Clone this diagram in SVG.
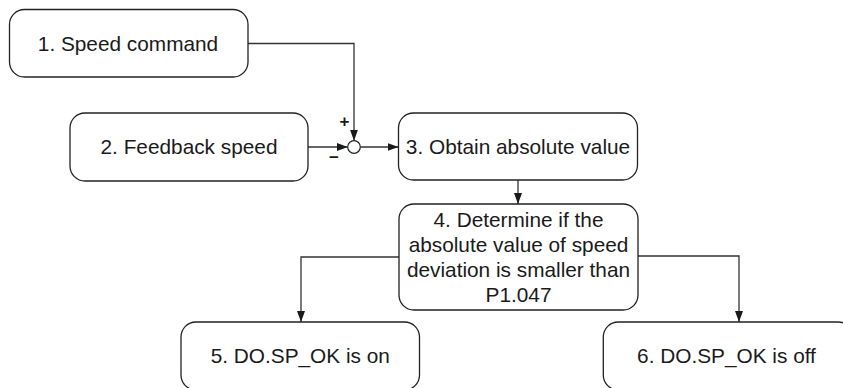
<svg xmlns="http://www.w3.org/2000/svg" width="843" height="388" viewBox="0 0 843 388">
<style>
.box{fill:#fff;stroke:#222;stroke-width:1.3}
.t{font-family:"Liberation Sans",Arial,sans-serif;font-size:20.8px;fill:#1a1a1a;text-anchor:middle}
.c{fill:none;stroke:#333;stroke-width:1.3}
.sign{font-family:"Liberation Sans",Arial,sans-serif;font-weight:bold;font-size:17px;fill:#1a1a1a;text-anchor:middle}
</style>
<defs>
<marker id="ah" viewBox="0 0 11 8" refX="11" refY="4" markerWidth="11" markerHeight="8" markerUnits="userSpaceOnUse" orient="auto">
<path d="M0,0 L11,4 L0,8 Z" fill="#1a1a1a"/>
</marker>
</defs>
<rect width="843" height="388" fill="#fff"/>
<g id="connectors">
<path class="c" d="M248,43.5 H354 V140.7" marker-end="url(#ah)"/>
<path class="c" d="M308,147 H347.7" marker-end="url(#ah)"/>
<path class="c" d="M360.3,147 H398.5" marker-end="url(#ah)"/>
<path class="c" d="M518,180 V204" marker-end="url(#ah)"/>
<path class="c" d="M399,257 H301 V322" marker-end="url(#ah)"/>
<path class="c" d="M638,256 H739 V322" marker-end="url(#ah)"/>
</g>
<g id="sum">
<circle cx="354" cy="147" r="6.3" fill="#fff" stroke="#222" stroke-width="1.2"/>
<text class="sign" x="344.5" y="127">+</text>
<text class="sign" x="334" y="163">−</text>
</g>
<g id="n1">
<rect class="box" x="9.5" y="9.5" width="238.5" height="67.5" rx="15"/>
<text class="t" x="128" y="50.5">1. Speed command</text>
</g>
<g id="n2">
<rect class="box" x="70" y="113" width="238" height="68" rx="15"/>
<text class="t" x="189" y="154">2. Feedback speed</text>
</g>
<g id="n3">
<rect class="box" x="398.5" y="113" width="239" height="67" rx="15"/>
<text class="t" x="518" y="153.5">3. Obtain absolute value</text>
</g>
<g id="n4">
<rect class="box" x="399" y="204" width="239" height="106" rx="15"/>
<text class="t" x="518.5" y="227">4. Determine if the</text>
<text class="t" x="518.5" y="252">absolute value of speed</text>
<text class="t" x="518.5" y="277">deviation is smaller than</text>
<text class="t" x="518.5" y="302">P1.047</text>
</g>
<g id="n5">
<rect class="box" x="181" y="322" width="238.5" height="68" rx="15"/>
<text class="t" x="300.3" y="363">5. DO.SP_OK is on</text>
</g>
<g id="n6">
<rect class="box" x="603.3" y="322" width="250" height="68" rx="15"/>
<text class="t" x="726.5" y="363">6. DO.SP_OK is off</text>
</g>
</svg>
